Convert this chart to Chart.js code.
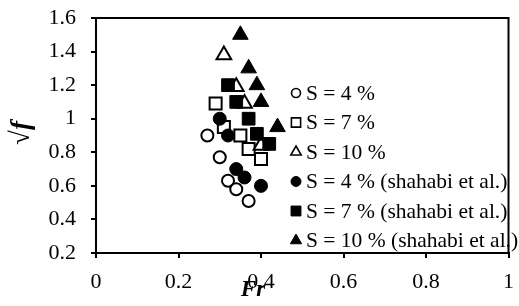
<!DOCTYPE html>
<html>
<head>
<meta charset="utf-8">
<script src="https://cdn.jsdelivr.net/npm/chart.js@4"></script>
<style>
  html, body { margin: 0; padding: 0; background: #fff; }
  #wrap { width: 519px; height: 306px; }
</style>
</head>
<body>
<div id="wrap"><canvas id="chart" width="519" height="306"></canvas></div>
<script>
// Values: [Fr, sqrt(f)]
const seriesLabels = [
  'S = 4 %', 'S = 7 %', 'S = 10 %',
  'S = 4 % (shahabi et al.)', 'S = 7 % (shahabi et al.)', 'S = 10 % (shahabi et al.)',
];
const open4 = [[0.27, 0.90], [0.30, 0.77], [0.32, 0.63], [0.34, 0.58], [0.37, 0.51]];
const open7 = [[0.29, 1.09], [0.31, 0.95], [0.35, 0.90], [0.37, 0.82], [0.40, 0.76]];
const open10 = [[0.31, 1.38], [0.34, 1.19], [0.36, 1.09], [0.40, 0.84]];
const shahabi4 = [[0.30, 1.00], [0.32, 0.90], [0.34, 0.70], [0.36, 0.65], [0.40, 0.60]];
const shahabi7 = [[0.32, 1.20], [0.34, 1.10], [0.37, 1.00], [0.39, 0.91], [0.42, 0.85]];
const shahabi10 = [[0.35, 1.50], [0.37, 1.30], [0.39, 1.20], [0.40, 1.10], [0.44, 0.95]];
const xTicks = [0, 0.2, 0.4, 0.6, 0.8, 1];
const yTicks = [0.2, 0.4, 0.6, 0.8, 1, 1.2, 1.4, 1.6];

const FONT = '"Liberation Serif", "Times New Roman", serif';

function toPoints(arr) {
  return arr.map(([x, y]) => ({ x, y }));
}

const styles = [
  { pointStyle: 'circle', radius: 6, fill: '#fff', bw: 2, lr: 4.5 },
  { pointStyle: 'rect', radius: 8.5, fill: '#fff', bw: 2, lr: 6.5 },
  { pointStyle: 'triangle', radius: 8.5, fill: '#fff', bw: 2, lr: 6 },
  { pointStyle: 'circle', radius: 6.5, fill: '#000', bw: 1, lr: 5 },
  { pointStyle: 'rect', radius: 9, fill: '#000', bw: 1, lr: 7 },
  { pointStyle: 'triangle', radius: 9, fill: '#000', bw: 1, lr: 6.5 },
];
const seriesData = [open4, open7, open10, shahabi4, shahabi7, shahabi10];

const datasets = seriesData.map((d, i) => ({
  label: seriesLabels[i],
  data: toPoints(d),
  pointStyle: styles[i].pointStyle,
  pointRadius: styles[i].radius,
  pointHoverRadius: styles[i].radius,
  backgroundColor: styles[i].fill,
  borderColor: '#000',
  borderWidth: styles[i].bw,
  legendRadius: styles[i].lr,
  order: 10 - i,
}));

// box round the plot, axis titles and the legend inside the plot
const decor = {
  id: 'decor',
  afterDatasetsDraw(chart) {
    const { ctx, chartArea: a } = chart;
    ctx.save();
    ctx.strokeStyle = '#000';
    ctx.lineWidth = 2;
    ctx.strokeRect(a.left, a.top, a.right - a.left, a.bottom - a.top);

    // legend
    const x0 = 296, y0 = 93, step = 29.5;
    ctx.font = '21.5px ' + FONT;
    ctx.textBaseline = 'middle';
    ctx.textAlign = 'left';
    chart.data.datasets.forEach((ds, i) => {
      const y = y0 + i * step;
      ctx.fillStyle = ds.backgroundColor;
      ctx.strokeStyle = '#000';
      ctx.lineWidth = ds.borderWidth === 2 ? 1.6 : 1;
      Chart.helpers.drawPoint(ctx, { pointStyle: ds.pointStyle, radius: ds.legendRadius, borderWidth: ctx.lineWidth }, x0, y);
      ctx.fillStyle = '#000';
      ctx.fillText(ds.label, x0 + 10, y + 1);
    });

    // x title
    ctx.font = 'italic bold 23px ' + FONT;
    ctx.textAlign = 'center';
    ctx.fillText('Fr', 253, 290);

    // y title, rotated
    ctx.translate(22, 133);
    ctx.rotate(-Math.PI / 2);
    ctx.font = '27px ' + FONT;
    const w1 = ctx.measureText('√').width;
    ctx.font = 'italic bold 27px ' + FONT;
    const w2 = ctx.measureText('f').width;
    const x = -(w1 + w2) / 2;
    ctx.textAlign = 'left';
    ctx.font = '27px ' + FONT;
    ctx.fillText('√', x, 0);
    ctx.font = 'italic bold 27px ' + FONT;
    ctx.fillText('f', x + w1, 0);
    ctx.restore();
  },
};

const fmt = (v) => String(Number(v.toFixed(1)));

new Chart(document.getElementById('chart'), {
  type: 'scatter',
  data: { datasets },
  options: {
    responsive: false,
    animation: false,
    events: [],
    layout: { padding: { top: 18, right: 4, left: 0, bottom: 0 } },
    scales: {
      x: {
        type: 'linear',
        min: xTicks[0],
        max: xTicks[xTicks.length - 1],
        afterBuildTicks: (s) => { s.ticks = xTicks.map((v) => ({ value: v })); },
        afterFit: (s) => {
          s.height = 53;
          s.paddingLeft = 0;
          s.paddingRight = 0;
        },
        ticks: { callback: fmt, color: '#000', font: { family: FONT, size: 22 }, padding: 11, maxRotation: 0 },
        grid: { drawOnChartArea: false, drawTicks: true, tickLength: 5, color: '#000', lineWidth: 2 },
        border: { display: true, color: '#000', width: 2 },
      },
      y: {
        type: 'linear',
        min: yTicks[0],
        max: yTicks[yTicks.length - 1],
        afterBuildTicks: (s) => { s.ticks = yTicks.map((v) => ({ value: v })); },
        afterFit: (s) => {
          s.width = 96;
          s.paddingTop = 0;
          s.paddingBottom = 0;
        },
        ticks: { callback: fmt, color: '#000', font: { family: FONT, size: 22 }, padding: 15 },
        grid: { drawOnChartArea: false, drawTicks: true, tickLength: 5, color: '#000', lineWidth: 2 },
        border: { display: true, color: '#000', width: 2 },
      },
    },
    plugins: {
      legend: { display: false },
      tooltip: { enabled: false },
    },
  },
  plugins: [decor],
});
</script>
</body>
</html>
